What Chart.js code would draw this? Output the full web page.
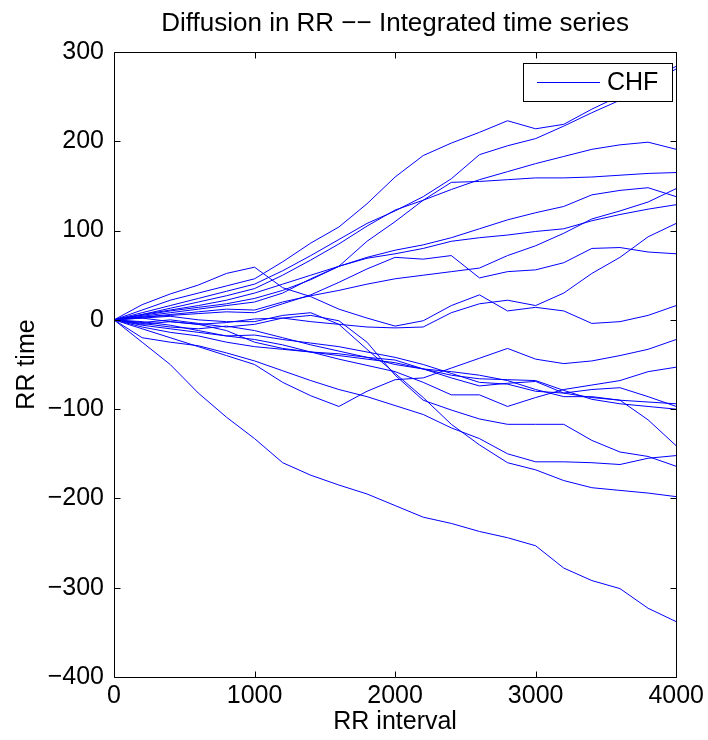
<!DOCTYPE html>
<html><head><meta charset="utf-8">
<script src="https://cdn.jsdelivr.net/npm/chart.js@4.4.1/dist/chart.umd.min.js"></script>
<style>html,body{margin:0;padding:0;background:#fff;}</style>
</head><body>
<canvas id="c" width="708" height="740"></canvas>
<script>
// ---- data ----
const XS = [0,200,400,600,800,1000,1200,1400,1600,1800,2000,2200,2400,2600,2800,3000,3200,3400,3600,3800,4000];
const S_P284 = [0,11,22,30,38,46,65,86,104,130,160,184,198,210,223,214,219,236,251,268,284];
const S_P281 = [0,8,16,24,32,40,55,72,90,108,122,138,158,185,195,203,217,232,246,264,281];
const S_P191 = [0,6,13,20,27,35,50,67,85,105,123,134,146,157,166,175,183,191,196,199,191];
const S_P165 = [0,5,10,14,18,24,33,45,60,88,110,134,154,155,157,159,159,160,162,164,165];
const S_P147 = [0,3,6,9,12,11,20,27,33,40,46,50,54,58,72,83,97,113,122,132,147];
const S_P138 = [0,6,11,16,22,30,40,50,60,70,78,84,92,102,112,120,127,140,145,148,138];
const S_P129 = [0,4,8,12,16,20,30,46,60,69,74,80,88,92,95,99,102,111,118,124,129];
const S_P108 = [0,2,-2,-5,-3,1,2,-2,-5,-8,-9,-8,8,18,22,16,30,52,70,93,108];
const S_P74  = [0,3,5,7,9,8,18,28,42,57,70,68,72,47,54,56,64,80,81,76,74];
const S_P16  = [0,17,29,39,52,59,36,26,12,2,-7,-1,16,28,10,14,10,-4,-2,5,16];
const S_N22  = [0,-10,-20,-30,-40,-50,-70,-85,-97,-80,-67,-65,-54,-43,-32,-44,-49,-46,-40,-33,-22];
const S_N53  = [0,-6,-10,-14,-18,-22,-28,-36,-44,-51,-58,-70,-84,-84,-97,-87,-78,-73,-68,-58,-53];
const S_N94  = [0,-4,-8,-10,-7,-12,-20,-28,-35,-42,-50,-55,-58,-62,-68,-78,-86,-86,-90,-92,-94];
const S_N97  = [0,-2,-6,-12,-18,-17,-22,-26,-30,-36,-42,-50,-60,-70,-72,-80,-82,-78,-76,-86,-97];
const S_N100 = [0,-8,-14,-18,-25,-30,-33,-36,-40,-44,-48,-55,-62,-66,-67,-68,-79,-89,-94,-97,-100];
const S_N141 = [0,-5,-2,-5,-12,-25,-32,-36,-38,-42,-45,-55,-65,-74,-71,-69,-82,-87,-90,-112,-141];
const S_N153 = [0,-20,-25,-29,-37,-46,-57,-68,-78,-86,-96,-106,-121,-133,-150,-159,-159,-160,-162,-155,-152];
const S_N164 = [0,-3,0,-4,-8,-5,2,5,-1,-25,-62,-90,-101,-111,-117,-117,-117,-135,-148,-153,-164];
const S_N198 = [0,2,4,0,-2,-2,5,8,-5,-33,-60,-87,-117,-140,-160,-168,-180,-188,-191,-194,-198];
const S_N338 = [0,-25,-50,-82,-109,-133,-160,-174,-185,-195,-208,-221,-228,-237,-244,-253,-278,-292,-301,-323,-338];
const SERIES = [S_P284,S_P281,S_P191,S_P165,S_P147,S_P138,S_P129,S_P108,S_P74,S_P16,
                S_N22,S_N53,S_N94,S_N97,S_N100,S_N141,S_N153,S_N164,S_N198,S_N338];
const X_TICKS = [0,1000,2000,3000,4000];
const Y_TICKS = [-400,-300,-200,-100,0,100,200,300];
const TITLE = 'Diffusion in RR \u2212\u2212 Integrated time series';
const X_LABEL = 'RR interval';
const Y_LABEL = 'RR time';
const LEGEND_LABEL = 'CHF';

// ---- drawing ----
const FONT_FAMILY = '"Liberation Sans", Arial, Helvetica, sans-serif';
const FS = 25;
const FS_TITLE = 26;
const fmt = v => v < 0 ? '\u2212' + Math.abs(v) : String(v);

const decor = {
  id: 'decor',
  afterDatasetsDraw(chart) {
    const {ctx, chartArea: a, scales: {x, y}} = chart;
    ctx.save();
    ctx.strokeStyle = '#000';
    ctx.lineWidth = 1;
    const L = Math.round(a.left) + 0.5, R = Math.round(a.right) + 0.5;
    const T = Math.round(a.top) + 0.5, B = Math.round(a.bottom) + 0.5;
    ctx.beginPath();
    ctx.rect(L, T, R - L, B - T);
    const tl = 6;
    X_TICKS.forEach(v => {
      const px = Math.round(x.getPixelForValue(v)) + 0.5;
      ctx.moveTo(px, B); ctx.lineTo(px, B - tl);
      ctx.moveTo(px, T); ctx.lineTo(px, T + tl);
    });
    Y_TICKS.forEach(v => {
      const py = Math.round(y.getPixelForValue(v)) + 0.5;
      ctx.moveTo(L, py); ctx.lineTo(L + tl, py);
      ctx.moveTo(R, py); ctx.lineTo(R - tl, py);
    });
    ctx.stroke();
    // legend box
    const lx0 = 523.5, ly0 = 63.5, lx1 = 672.5, ly1 = 101.5;
    ctx.fillStyle = '#fff';
    ctx.fillRect(lx0, ly0, lx1 - lx0, ly1 - ly0);
    ctx.strokeRect(lx0, ly0, lx1 - lx0, ly1 - ly0);
    ctx.strokeStyle = '#0000ff';
    ctx.beginPath();
    ctx.moveTo(537, 82.5); ctx.lineTo(600, 82.5);
    ctx.stroke();
    ctx.fillStyle = '#000';
    ctx.font = FS + 'px ' + FONT_FAMILY;
    ctx.textAlign = 'left';
    ctx.textBaseline = 'middle';
    ctx.fillText(LEGEND_LABEL, 607, 83);
    // title and axis titles
    ctx.textAlign = 'center';
    ctx.textBaseline = 'alphabetic';
    ctx.fillText(X_LABEL, (a.left + a.right) / 2, 729);
    ctx.save();
    ctx.translate(34, (a.top + a.bottom) / 2);
    ctx.rotate(-Math.PI / 2);
    ctx.fillText(Y_LABEL, 0, 0);
    ctx.restore();
    ctx.font = FS_TITLE + 'px ' + FONT_FAMILY;
    ctx.fillText(TITLE, (a.left + a.right) / 2, 31);
    ctx.restore();
  }
};

new Chart(document.getElementById('c'), {
  type: 'line',
  data: {
    datasets: SERIES.map((s, i) => ({
      label: i === 0 ? LEGEND_LABEL : '',
      data: XS.map((xv, j) => ({x: xv, y: s[j]})),
      borderColor: '#0000ff',
      borderWidth: 1,
      pointRadius: 0,
      tension: 0,
      fill: false
    }))
  },
  options: {
    responsive: false,
    animation: false,
    devicePixelRatio: 1,
    layout: {padding: {top: 52, right: 26, left: 0, bottom: 0}},
    plugins: {legend: {display: false}, title: {display: false}, tooltip: {enabled: false}},
    scales: {
      x: {
        type: 'linear', min: 0, max: 4000,
        afterBuildTicks: s => { s.ticks = X_TICKS.map(v => ({value: v})); },
        ticks: {color: '#000', font: {family: FONT_FAMILY, size: FS}, padding: 4, maxRotation: 0, callback: v => fmt(v)},
        grid: {display: false, drawTicks: false},
        border: {display: false},
        afterFit: s => { s.height = 63; }
      },
      y: {
        type: 'linear', min: -400, max: 300,
        afterBuildTicks: s => { s.ticks = Y_TICKS.map(v => ({value: v})); },
        ticks: {color: '#000', font: {family: FONT_FAMILY, size: FS}, padding: 10, callback: v => fmt(v)},
        grid: {display: false, drawTicks: false},
        border: {display: false},
        afterFit: s => { s.width = 114; }
      }
    }
  },
  plugins: [decor]
});
</script>
</body></html>
